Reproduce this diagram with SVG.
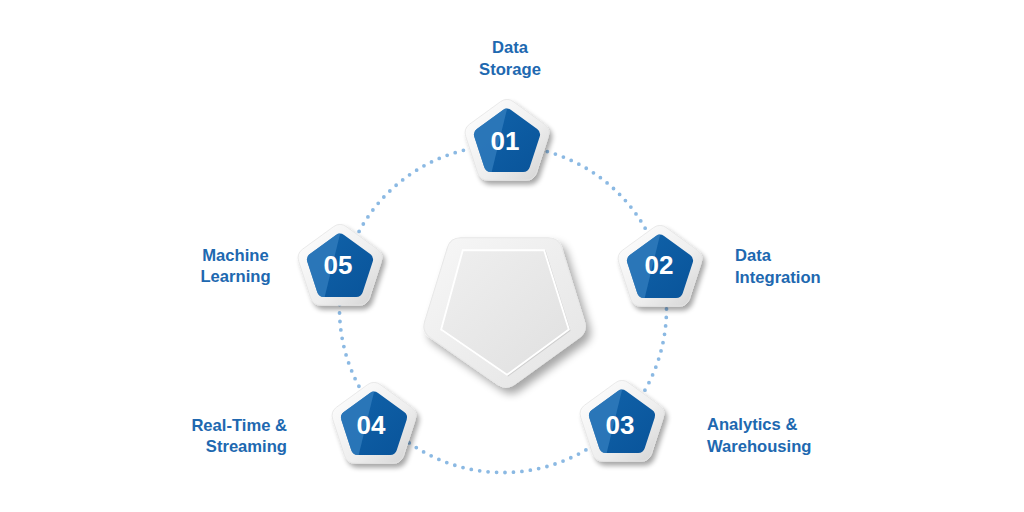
<svg xmlns="http://www.w3.org/2000/svg" xmlns:xlink="http://www.w3.org/1999/xlink" width="1024" height="512" viewBox="0 0 1024 512">
  <defs>
    <style>
      .lbl { font-family: "Liberation Sans", Arial, sans-serif; font-weight: bold; font-size: 16.6px; fill: #2068b0; }
      .num { font-family: "Liberation Sans", Arial, sans-serif; font-weight: bold; font-size: 26px; fill: #ffffff; text-anchor: middle; }
      .dots { fill: none; stroke: #8bb9e3; stroke-width: 3.8; stroke-linecap: round; stroke-dasharray: 0 8.49; }
    </style>
    <linearGradient id="rim" x1="0" y1="0" x2="1" y2="1">
      <stop offset="0" stop-color="#ffffff"/>
      <stop offset="0.6" stop-color="#eeeeee"/>
      <stop offset="1" stop-color="#d2d2d2"/>
    </linearGradient>
    <linearGradient id="blue" x1="0" y1="0" x2="1" y2="1">
      <stop offset="0" stop-color="#1163aa"/>
      <stop offset="1" stop-color="#09549a"/>
    </linearGradient>
    <linearGradient id="bigRim" x1="0" y1="0" x2="1" y2="1">
      <stop offset="0" stop-color="#f7f7f7"/>
      <stop offset="1" stop-color="#e4e4e4"/>
    </linearGradient>
    <linearGradient id="bigFace" x1="0" y1="0" x2="1" y2="1">
      <stop offset="0" stop-color="#efefef"/>
      <stop offset="1" stop-color="#e0e0e0"/>
    </linearGradient>
    <filter id="sh" x="-30%" y="-30%" width="170%" height="170%">
      <feGaussianBlur in="SourceAlpha" stdDeviation="2.5"/>
      <feOffset dx="3" dy="4"/>
      <feComponentTransfer><feFuncA type="linear" slope="0.35"/></feComponentTransfer>
      <feMerge><feMergeNode/><feMergeNode in="SourceGraphic"/></feMerge>
    </filter>
    <filter id="bigsh" x="-20%" y="-20%" width="150%" height="150%">
      <feGaussianBlur in="SourceAlpha" stdDeviation="4"/>
      <feOffset dx="5" dy="6"/>
      <feComponentTransfer><feFuncA type="linear" slope="0.35"/></feComponentTransfer>
      <feMerge><feMergeNode/><feMergeNode in="SourceGraphic"/></feMerge>
    </filter>
    <path id="po" d="M -6.47,-41.30 Q 0,-46 6.47,-41.30 L 37.28,-18.91 Q 43.75,-14.21 41.28,-6.60 L 29.51,29.60 Q 27.04,37.21 19.04,37.21 L -19.04,37.21 Q -27.04,37.21 -29.51,29.60 L -41.28,-6.60 Q -43.75,-14.21 -37.28,-18.91 Z"/>
    <path id="pi" d="M -4.05,-33.06 Q 0,-36 4.05,-33.06 L 30.19,-14.06 Q 34.24,-11.12 32.69,-6.36 L 22.71,24.36 Q 21.16,29.12 16.16,29.12 L -16.16,29.12 Q -21.16,29.12 -22.71,24.36 L -32.69,-6.36 Q -34.24,-11.12 -30.19,-14.06 Z"/>
    <clipPath id="clipIn"><use xlink:href="#pi"/></clipPath>
    <g id="pent">
      <use xlink:href="#po" fill="url(#rim)" stroke="#e4e4e4" stroke-width="0.8" filter="url(#sh)"/>
      <use xlink:href="#pi" fill="url(#blue)"/>
      <polygon points="1,-38 -40,-38 -40,40 -18,40" fill="#3680c0" opacity="0.7" clip-path="url(#clipIn)"/>
    </g>
  </defs>

  <rect width="1024" height="512" fill="#ffffff"/>

  <g id="connectors">
    <circle class="dots" cx="503" cy="309" r="163.5"/>
  </g>

  <g id="center">
    <g transform="translate(505 312) scale(1.03) translate(-505 -312)">
      <path d="M 462,240 L 547,240 Q 557,240 559.94,249.56 L 582.06,321.44 Q 585,331 576.89,336.85 L 514.11,382.15 Q 506,388 497.79,382.29 L 432.21,336.71 Q 424,331 426.94,321.44 L 449.06,249.56 Q 452,240 462,240 Z" fill="url(#bigRim)" stroke="#e8e8e8" stroke-width="1" filter="url(#bigsh)"/>
      <polygon points="465,253 544,253 568,330 508,374 444,330" fill="none" stroke="#cfcfcf" stroke-width="1.2"/>
      <polygon points="464,252 543,252 567,329 507,373 443,329" fill="url(#bigFace)" stroke="#ffffff" stroke-width="1.8"/>
    </g>
  </g>

  <g id="node01">
    <use xlink:href="#pent" x="507" y="143"/>
    <text class="num" x="505" y="150">01</text>
    <text class="lbl" x="510" y="53" text-anchor="middle">Data</text>
    <text class="lbl" x="510" y="75" text-anchor="middle">Storage</text>
  </g>

  <g id="node02">
    <use xlink:href="#pent" x="660" y="269"/>
    <text class="num" x="659" y="274">02</text>
    <text class="lbl" x="735" y="261">Data</text>
    <text class="lbl" x="735" y="283">Integration</text>
  </g>

  <g id="node03">
    <use xlink:href="#pent" x="622" y="424"/>
    <text class="num" x="620" y="434">03</text>
    <text class="lbl" x="707" y="430">Analytics &amp;</text>
    <text class="lbl" x="707" y="452">Warehousing</text>
  </g>

  <g id="node04">
    <use xlink:href="#pent" x="374" y="426"/>
    <text class="num" x="371" y="434">04</text>
    <text class="lbl" x="287" y="431" text-anchor="end">Real-Time &amp;</text>
    <text class="lbl" x="287" y="452" text-anchor="end">Streaming</text>
  </g>

  <g id="node05">
    <use xlink:href="#pent" x="340" y="268"/>
    <text class="num" x="338" y="274">05</text>
    <text class="lbl" x="235.5" y="261" text-anchor="middle">Machine</text>
    <text class="lbl" x="235.5" y="282" text-anchor="middle">Learning</text>
  </g>
</svg>
